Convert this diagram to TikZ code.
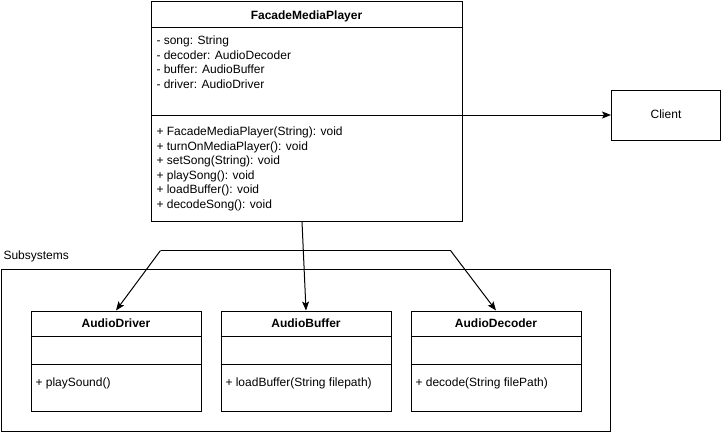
\documentclass[tikz,border=0pt]{standalone}
\usepackage{fontspec}
\setmainfont{Liberation Sans}
\usetikzlibrary{arrows.meta}
\begin{document}
\begin{tikzpicture}[x=1pt,y=-1pt,line width=1pt,
  box/.style={draw,anchor=north west,inner sep=0pt},
  lbl/.style={inner sep=0pt,anchor=base west,font=\fontsize{12}{14}\selectfont},
  ttl/.style={inner sep=0pt,anchor=base,font=\bfseries\fontsize{12}{14}\selectfont},
  arr/.style={-{Stealth[length=9pt,width=7pt,inset=2pt]}}]
\useasboundingbox (0,0) rectangle (721,432);

% Facade
\node[box,minimum width=311pt,minimum height=220pt] (fmp) at (150.5,0.5) {};
\draw (fmp.north west) ++(0,27) -- ++(311,0);
\draw (fmp.north west) ++(0,115) -- ++(311,0);
\node[ttl] (fmpt) at ([yshift=-18.5pt]fmp.north) {FacadeMediaPlayer};
\foreach \t [count=\i from 0] in {{- song: String},{- decoder: AudioDecoder},{- buffer: AudioBuffer},{- driver: AudioDriver}}
  \node[lbl] (fa\i) at (156,44.5+14.5*\i) {\t};
\foreach \t [count=\i from 0] in {{+ FacadeMediaPlayer(String): void},{+ turnOnMediaPlayer(): void},{+ setSong(String): void},{+ playSong(): void},{+ loadBuffer(): void},{+ decodeSong(): void}}
  \node[lbl] (fm\i) at (156,135.5+14.5*\i) {\t};

% Client
\node[box,minimum width=109pt,minimum height=50pt] (client) at (611,89.5) {};
\node[lbl,anchor=base] (clientt) at ([yshift=-29pt]client.north) {Client};

% Subsystems
\node[lbl] (subl) at (3,259.5) {Subsystems};
\node[box,minimum width=609.5pt,minimum height=162pt] (sub) at (0.5,269) {};

\foreach \n/\x/\tt/\m in {drv/30/AudioDriver/{+ playSound()},buf/220/AudioBuffer/{+ loadBuffer(String filepath)},dec/410/AudioDecoder/{+ decode(String filePath)}}{
  \node[box,minimum width=170pt,minimum height=100pt] (\n) at (\x.5,310.5) {};
  \draw (\n.north west) ++(0,26) -- ++(170,0);
  \draw (\n.north west) ++(0,54) -- ++(170,0);
  \node[ttl] (\n t) at ([yshift=-17pt]\n.north) {\tt};
  \node[lbl] (\n m) at (\x+5,386.5) {\m};
}

% connectors
\draw[arr] (fmp.east |- client.west) -- (client.west);
\draw[arr] ([xshift=-4.5pt]fmp.south) -- (buf.north);
\coordinate (c1) at (160.5,250.5);
\coordinate (c2) at (450.5,250.5);
\draw[arr] (c1) -- (drv.north);
\draw[arr] (c2) -- (dec.north);
\draw (c1) -- (c2);
\end{tikzpicture}
\end{document}
